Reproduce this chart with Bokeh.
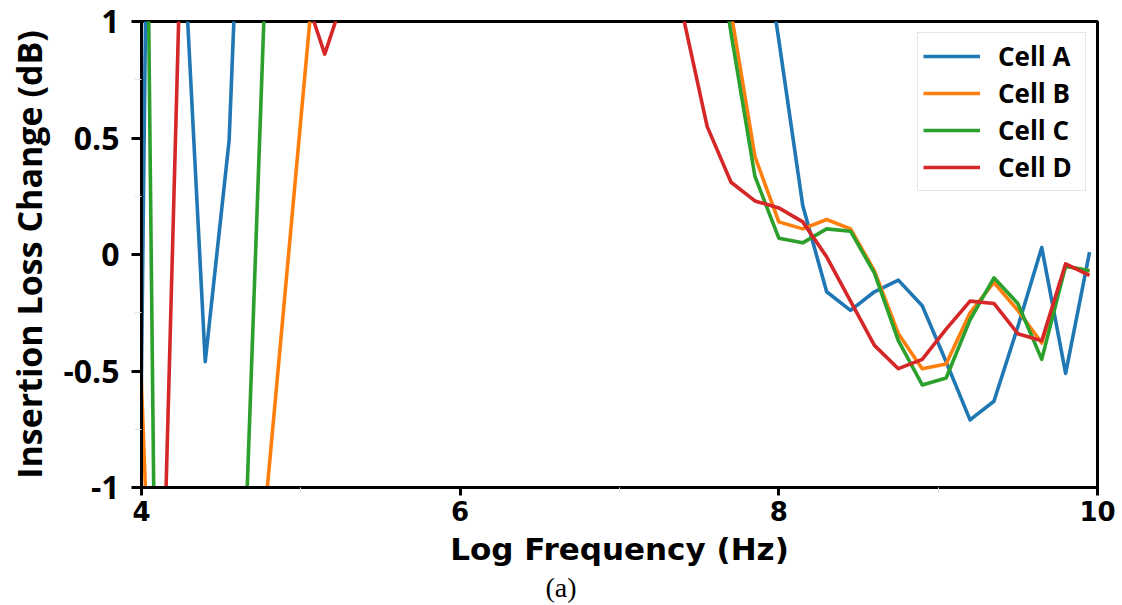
from bokeh.plotting import figure
from bokeh.models import FixedTicker, Legend, LegendItem, Title, Range1d
from bokeh.embed import file_html
from bokeh.resources import INLINE

# log10 frequency sample points
log_freq = [3.95, 4.10, 4.25, 4.40, 4.55, 4.70, 4.85, 5.00, 5.15, 5.30,
            5.45, 5.60, 5.75, 5.90, 6.05, 6.20, 6.35, 6.50, 6.65, 6.80,
            6.95, 7.10, 7.25, 7.40, 7.55, 7.70, 7.85, 8.00, 8.15, 8.30,
            8.45, 8.60, 8.75, 8.90, 9.05, 9.20, 9.35, 9.50, 9.65, 9.80, 9.95]

# insertion loss change (dB); values beyond +/-1 are off-scale estimates
cell_a = [-3.5, 5.5, 1.53, -0.46, 0.49, 3.07, 4.2, 5.0, 5.6, 6.1,
          6.5, 6.8, 7.0, 7.1, 7.0, 6.8, 6.5, 6.1, 5.6, 5.0,
          4.4, 3.8, 3.2, 2.7, 2.3, 1.95, 1.6, 0.92, 0.21, -0.16,
          -0.24, -0.16, -0.11, -0.22, -0.46, -0.71, -0.63, -0.31, 0.03, -0.51, 0.01]
cell_b = [0.33, -2.35, -3.0, -3.4, -2.8, -1.67, -0.55, 0.58, 1.70, 2.6,
          3.3, 3.9, 4.3, 4.6, 4.8, 4.9, 4.8, 4.6, 4.3, 3.9,
          3.5, 3.0, 2.5, 2.1, 1.7, 1.04, 0.42, 0.14, 0.11, 0.15,
          0.11, -0.07, -0.34, -0.49, -0.47, -0.25, -0.12, -0.24, -0.38, -0.05, -0.07]
cell_c = [7.1, -2.5, -3.0, -3.5, -3.18, -0.30, 2.58, 3.4, 4.0, 4.5,
          4.9, 5.2, 5.4, 5.5, 5.5, 5.4, 5.2, 4.9, 4.5, 4.0,
          3.4, 2.8, 2.2, 1.9, 1.6, 0.95, 0.335, 0.07, 0.05, 0.11,
          0.10, -0.08, -0.37, -0.56, -0.53, -0.28, -0.10, -0.21, -0.45, -0.05, -0.07]
cell_d = [-3.0, -2.38, 1.43, 2.3, 2.6, 2.3, 1.8, 1.17, 0.86, 1.17,
          1.8, 2.5, 3.1, 3.6, 4.0, 4.2, 4.3, 4.2, 4.0, 3.6,
          3.1, 2.5, 1.9, 1.02, 0.55, 0.31, 0.23, 0.20, 0.14, -0.01,
          -0.20, -0.39, -0.49, -0.45, -0.32, -0.20, -0.21, -0.34, -0.37, -0.04, -0.09]

series_names = ["Cell A", "Cell B", "Cell C", "Cell D"]
series_values = [cell_a, cell_b, cell_c, cell_d]
colors = ["#1f77b4", "#ff7f0e", "#2ca02c", "#d62728"]

x_ticks = [4, 6, 8, 10]
x_minor_ticks = [5, 7, 9]
y_ticks = [-1, -0.5, 0, 0.5, 1]
y_tick_labels = ["-1", "-0.5", "0", "0.5", "1"]
y_minor_ticks = [-0.75, -0.25, 0.25, 0.75]

x_title = "Log Frequency (Hz)"
y_title = "Insertion Loss Change (dB)"
caption = "(a)"

p = figure(width=1122, height=605,
           x_range=Range1d(4, 10), y_range=Range1d(-1, 1),
           output_backend="svg", toolbar_location=None,
           min_border_left=141, min_border_right=25,
           min_border_top=21, min_border_bottom=118)

p.xgrid.visible = False
p.ygrid.visible = False
p.outline_line_color = "black"
p.outline_line_width = 3
p.background_fill_color = "white"
p.border_fill_color = "white"

items = []
for name, vals, col in zip(series_names, series_values, colors):
    r = p.line(log_freq, vals, line_color=col, line_width=3.6, line_join="round")
    items.append(LegendItem(label=name, renderers=[r]))

legend = Legend(items=items, location="top_right",
                label_text_font="Open Sans", label_text_font_style="bold",
                label_text_font_size="26px", label_text_color="black",
                glyph_width=57, glyph_height=30, label_height=30, label_width=82,
                label_standoff=18, spacing=1, padding=5, margin=11,
                border_line_color="#cccccc", border_line_width=1.5,
                background_fill_color="white", background_fill_alpha=0.85)
p.add_layout(legend)

xa = p.xaxis[0]
xa.ticker = FixedTicker(ticks=x_ticks, minor_ticks=x_minor_ticks)
xa.axis_label = x_title
xa.axis_label_text_font = "DejaVu Sans"
xa.axis_label_text_font_style = "bold"
xa.axis_label_text_font_size = "31px"
xa.axis_label_text_color = "black"
xa.axis_label_standoff = 7
xa.major_label_text_font = "DejaVu Sans"
xa.major_label_text_font_style = "bold"
xa.major_label_text_font_size = "26px"
xa.major_label_text_color = "black"
xa.major_label_standoff = 5
xa.axis_line_width = 3
xa.axis_line_color = "black"
xa.major_tick_line_width = 3
xa.major_tick_in = 0
xa.major_tick_out = 8
xa.minor_tick_line_color = "#e4e4e4"
xa.minor_tick_in = 0
xa.minor_tick_out = 5

ya = p.yaxis[0]
ya.ticker = FixedTicker(ticks=y_ticks, minor_ticks=y_minor_ticks)
ya.major_label_overrides = dict(zip(y_ticks, y_tick_labels))
ya.axis_label = y_title
ya.axis_label_text_font = "Open Sans"
ya.axis_label_text_font_style = "bold"
ya.axis_label_text_font_size = "34px"
ya.axis_label_text_color = "black"
ya.axis_label_standoff = 8
ya.major_label_text_font = "Open Sans"
ya.major_label_text_font_style = "bold"
ya.major_label_text_font_size = "32px"
ya.major_label_text_color = "black"
ya.major_label_standoff = 12
ya.axis_line_width = 3
ya.axis_line_color = "black"
ya.major_tick_line_width = 3
ya.major_tick_in = 0
ya.major_tick_out = 10
ya.minor_tick_line_color = "#e4e4e4"
ya.minor_tick_in = 0
ya.minor_tick_out = 7

p.add_layout(Title(text=caption, align="left", offset=404, standoff=0,
                   text_font="Liberation Serif", text_font_style="normal",
                   text_font_size="28px", text_color="black"), "below")

open("out.html", "w").write(file_html(p, INLINE))
